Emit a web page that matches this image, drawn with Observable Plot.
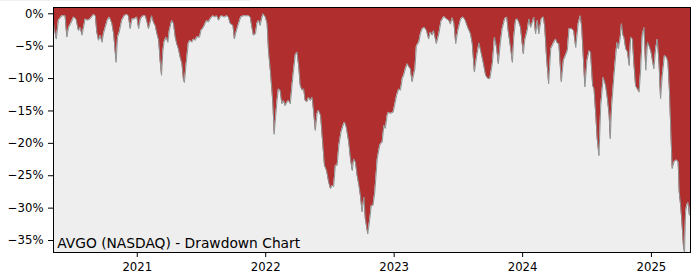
<!DOCTYPE html>
<html><head><meta charset="utf-8">
<script src="https://cdn.jsdelivr.net/npm/d3@7"></script>
<script src="https://cdn.jsdelivr.net/npm/@observablehq/plot@0.6"></script>
<style>
body{margin:0;background:#fff;}
#chart{width:700px;height:280px;}
</style></head><body><div id="chart"></div>
<script>
const dates = [
"2020-05-08","2020-05-16","2020-05-22","2020-06-01","2020-06-10","2020-06-15","2020-06-20","2020-06-26","2020-07-04","2020-07-11",
"2020-07-18","2020-07-23","2020-07-28","2020-08-06","2020-08-13","2020-08-20","2020-08-30","2020-09-04","2020-09-08","2020-09-13",
"2020-09-18","2020-09-23","2020-09-27","2020-10-02","2020-10-08","2020-10-14","2020-10-21","2020-10-26","2020-11-02","2020-11-06",
"2020-11-11","2020-11-18","2020-11-25","2020-12-02","2020-12-07","2020-12-12","2020-12-17","2020-12-23","2020-12-31",
"2021-01-05","2021-01-10","2021-01-14","2021-01-19","2021-01-24","2021-01-29","2021-02-02","2021-02-07","2021-02-11","2021-02-16",
"2021-02-21","2021-02-26","2021-03-03","2021-03-07","2021-03-11","2021-03-15","2021-03-18","2021-03-24","2021-03-29","2021-04-02",
"2021-04-09","2021-04-14","2021-04-19","2021-04-23","2021-04-28","2021-05-03","2021-05-08","2021-05-12","2021-05-15","2021-05-20",
"2021-05-26","2021-05-31","2021-06-05","2021-06-10","2021-06-15","2021-06-19","2021-06-27","2021-07-01","2021-07-08","2021-07-13",
"2021-07-18","2021-07-22","2021-07-27","2021-08-04","2021-08-10","2021-08-15","2021-08-20","2021-08-25","2021-08-29","2021-09-05",
"2021-09-13","2021-09-17","2021-09-22","2021-09-30","2021-10-04","2021-10-09","2021-10-16","2021-10-22","2021-10-30","2021-11-07",
"2021-11-13","2021-11-18","2021-11-23","2021-11-27","2021-12-03","2021-12-07","2021-12-12","2021-12-16","2021-12-24","2021-12-31",
"2022-01-05","2022-01-09","2022-01-14","2022-01-19","2022-01-22","2022-01-25","2022-01-29","2022-02-02","2022-02-06","2022-02-11",
"2022-02-16","2022-02-21","2022-02-25","2022-03-03","2022-03-07","2022-03-12","2022-03-17","2022-03-21","2022-03-26","2022-03-31",
"2022-04-05","2022-04-09","2022-04-14","2022-04-19","2022-04-23","2022-04-28","2022-05-03","2022-05-08","2022-05-13","2022-05-17",
"2022-05-22","2022-05-27","2022-05-31","2022-06-06","2022-06-10","2022-06-17","2022-06-23","2022-06-29","2022-07-04","2022-07-09",
"2022-07-13","2022-07-18","2022-07-23","2022-07-28","2022-08-03","2022-08-09","2022-08-13","2022-08-18","2022-08-25","2022-08-30",
"2022-09-04","2022-09-08","2022-09-13","2022-09-18","2022-09-23","2022-09-27","2022-10-02","2022-10-07","2022-10-11","2022-10-18",
"2022-10-24","2022-10-28","2022-11-02","2022-11-07","2022-11-14","2022-11-21","2022-11-28","2022-12-03","2022-12-07","2022-12-12",
"2022-12-16","2022-12-21","2022-12-29",
"2023-01-02","2023-01-08","2023-01-14","2023-01-19","2023-01-24","2023-01-28","2023-02-02","2023-02-07","2023-02-12","2023-02-16",
"2023-02-21","2023-02-25","2023-03-01","2023-03-05","2023-03-12","2023-03-17","2023-03-22","2023-03-28","2023-04-03","2023-04-09",
"2023-04-14","2023-04-19","2023-04-23","2023-05-01","2023-05-08","2023-05-14","2023-05-22","2023-05-30","2023-06-05","2023-06-10",
"2023-06-15","2023-06-20","2023-06-25","2023-07-01","2023-07-09","2023-07-16","2023-07-22","2023-07-29","2023-08-06","2023-08-11",
"2023-08-17","2023-08-23","2023-08-30","2023-09-06","2023-09-11","2023-09-18","2023-09-24","2023-09-30","2023-10-07","2023-10-13",
"2023-10-19","2023-10-24","2023-10-30","2023-11-04","2023-11-11","2023-11-17","2023-11-21","2023-11-27","2023-12-03","2023-12-07",
"2023-12-12","2023-12-17","2023-12-21","2023-12-26",
"2024-01-03","2024-01-07","2024-01-14","2024-01-19","2024-01-24","2024-01-29","2024-02-02","2024-02-07","2024-02-12","2024-02-16",
"2024-02-23","2024-02-29","2024-03-04","2024-03-09","2024-03-15","2024-03-21","2024-03-28","2024-04-04","2024-04-09","2024-04-13",
"2024-04-20","2024-04-26","2024-05-02","2024-05-07","2024-05-12","2024-05-19","2024-05-25","2024-05-31","2024-06-07","2024-06-13",
"2024-06-17","2024-06-21","2024-06-26","2024-07-02","2024-07-08","2024-07-12","2024-07-18","2024-07-22","2024-07-27","2024-07-31",
"2024-08-05","2024-08-10","2024-08-17","2024-08-24","2024-08-29","2024-09-03","2024-09-06","2024-09-10","2024-09-16","2024-09-19",
"2024-09-25","2024-09-29","2024-10-04","2024-10-08","2024-10-12","2024-10-15","2024-10-20","2024-10-25","2024-10-30","2024-11-03",
"2024-11-08","2024-11-12","2024-11-17","2024-11-22","2024-11-27","2024-12-01","2024-12-06","2024-12-11","2024-12-16","2024-12-21",
"2024-12-25","2024-12-31",
"2025-01-04","2025-01-08","2025-01-13","2025-01-18","2025-01-23","2025-01-27","2025-02-01","2025-02-07","2025-02-13","2025-02-17",
"2025-02-21","2025-02-25","2025-03-01","2025-03-06","2025-03-11","2025-03-15","2025-03-18","2025-03-21","2025-03-25","2025-03-28",
"2025-04-02","2025-04-05","2025-04-08","2025-04-11","2025-04-15","2025-04-19","2025-04-22"
];
// drawdown in percent
const drawdown = [
-1.5,-3.9,-1.0,-0.3,-0.3,-3.6,-2.1,-1.5,-0.5,-0.8,
-2.6,-2.1,-3.3,-0.8,-1.0,-0.8,-0.1,-0.3,-2.8,-4.1,
-3.3,-4.4,-3.1,-2.1,-1.0,-0.5,-1.5,-3.1,-7.5,-3.6,
-2.8,-1.0,-0.3,-0.1,-0.3,-2.3,-0.8,-0.8,-0.5,
-2.3,-0.8,-0.5,-0.3,-0.3,-1.3,-2.3,-1.3,-0.3,-1.3,
-1.8,-3.1,-4.1,-7.2,-9.5,-5.7,-4.4,-3.6,-4.4,-2.6,
-1.0,-1.5,-3.6,-4.6,-5.4,-6.7,-7.7,-10.0,-10.6,-7.7,
-4.6,-4.1,-4.4,-3.9,-4.1,-3.6,-3.6,-2.6,-2.1,-1.5,
-1.0,-1.3,-0.8,-0.3,-0.5,-0.3,-1.0,-0.5,-0.3,-0.5,
-0.3,-0.5,-1.5,-1.8,-3.9,-2.8,-1.5,-0.5,-0.3,-0.3,
-0.3,-0.5,-2.1,-3.3,-3.1,-1.5,-1.0,-1.8,0.0,-0.5,
-1.5,-5.7,-8.6,-12.0,-14.4,-18.6,-16.0,-13.5,-11.6,-11.8,
-13.9,-13.4,-14.2,-13.6,-13.4,-13.9,-10.9,-8.8,-6.4,-5.9,
-8.2,-11.0,-11.8,-11.6,-13.4,-13.6,-12.9,-13.4,-12.9,-15.0,
-18.0,-15.4,-14.9,-15.7,-18.5,-23.4,-24.2,-26.0,-27.0,-26.5,
-26.7,-23.4,-23.4,-20.3,-18.3,-17.2,-16.7,-17.5,-19.8,-22.4,
-24.2,-22.4,-22.9,-25.0,-26.5,-28.0,-30.6,-28.3,-31.6,-34.0,
-31.6,-29.6,-29.6,-27.5,-22.4,-20.3,-19.8,-17.2,-17.7,-15.7,
-15.2,-15.4,-15.2,
-14.2,-12.6,-11.6,-11.8,-10.0,-9.5,-8.5,-7.7,-8.2,-8.5,
-10.5,-9.5,-8.5,-5.0,-4.4,-3.0,-2.3,-2.1,-2.6,-3.9,
-2.8,-3.3,-2.6,-4.6,-3.1,-1.2,-0.4,-0.8,-1.0,-1.6,
-0.6,-1.5,-4.6,-2.6,-0.8,-0.5,-1.0,-2.1,-3.1,-4.6,
-9.0,-6.7,-4.5,-6.2,-7.5,-9.5,-10.0,-10.0,-7.7,-3.6,
-5.2,-7.7,-4.4,-2.3,-0.8,-0.5,-2.6,-4.9,-7.5,-3.6,
-1.0,-0.8,-1.3,-2.1,
-6.2,-4.1,-2.6,-0.8,-2.1,-1.3,-0.5,-3.1,-1.0,-3.1,
-0.8,-0.5,-2.1,-6.7,-10.8,-5.4,-4.6,-3.9,-4.6,-4.6,
-10.5,-7.2,-6.4,-5.7,-2.3,-2.3,-2.6,-5.2,-1.5,-0.3,
-2.1,-6.2,-11.3,-7.2,-5.7,-5.9,-11.1,-11.6,-15.7,-19.3,
-21.9,-14.2,-9.8,-11.1,-13.1,-15.7,-19.3,-14.2,-10.0,-8.0,
-4.4,-5.4,-3.9,-1.5,-3.3,-3.6,-5.4,-5.9,-8.0,-3.6,
-3.9,-7.5,-11.1,-11.6,-12.1,-9.0,-3.3,-2.1,-8.7,-4.4,
-4.9,-5.9,
-7.2,-8.5,-5.4,-3.9,-8.0,-13.1,-9.5,-6.4,-6.7,-7.5,
-11.6,-17.7,-23.9,-22.9,-22.6,-22.6,-22.9,-27.5,-29.6,-31.6,
-35.8,-36.8,-30.6,-29.6,-29.1,-31.1,-29.6
];
const yTicks = [0, -5, -10, -15, -20, -25, -30, -35];
const xTicks = ["2021-01-01", "2022-01-01", "2023-01-01", "2024-01-01", "2025-01-01"];
const title = "AVGO (NASDAQ) - Drawdown Chart";
const yTop = 0.97;      // percent, upper limit of the axis
const yBottom = -36.85; // percent, lower limit of the axis

const data = dates.map((d, i) => ({date: new Date(d + "T00:00:00Z"), dd: drawdown[i] / 100}));

const chart = Plot.plot({
  width: 700, height: 280,
  marginLeft: 53, marginRight: 10, marginTop: 7, marginBottom: 28,
  style: {fontFamily: "DejaVu Sans", fontSize: "11.7px", color: "#000", background: "#fff", overflow: "visible"},
  x: {type: "utc", domain: d3.extent(data, d => d.date), ticks: xTicks.map(d => new Date(d + "T00:00:00Z")),
      tickFormat: d3.utcFormat("%Y"), tickSize: 5, tickPadding: 5, label: null},
  y: {domain: [yBottom / 100, yTop / 100], ticks: yTicks.map(v => v / 100), tickFormat: d3.format(".0%"),
      tickSize: 5, tickPadding: 5, label: null},
  marks: [
    Plot.frame({fill: "#eeeeee"}),
    Plot.areaY(data, {x: "date", y1: () => yTop / 100, y2: "dd", fill: "#b02e2e"}),
    Plot.line(data, {x: "date", y: "dd", stroke: "#8c9494", strokeWidth: 1}),
    Plot.text([title], {frameAnchor: "bottom-left", dx: 3.7, dy: -4.7, lineAnchor: "bottom", textAnchor: "start",
      fontSize: 13.8, fill: "#000", className: "ttl"}),
    Plot.frame({stroke: "#000", strokeWidth: 1})
  ]
});
document.getElementById("chart").appendChild(chart);

// grey box behind the title label
const t = chart.querySelector("g.ttl text");
if (t) {
  const b = t.getBBox();
  const r = document.createElementNS("http://www.w3.org/2000/svg", "rect");
  r.setAttribute("x", b.x - 3.6);
  r.setAttribute("y", b.y - 1.8);
  r.setAttribute("width", b.width + 6.4);
  r.setAttribute("height", b.height + 3.2);
  r.setAttribute("fill", "#b5b5b5");
  t.parentNode.insertBefore(r, t);
}
</script></body></html>
